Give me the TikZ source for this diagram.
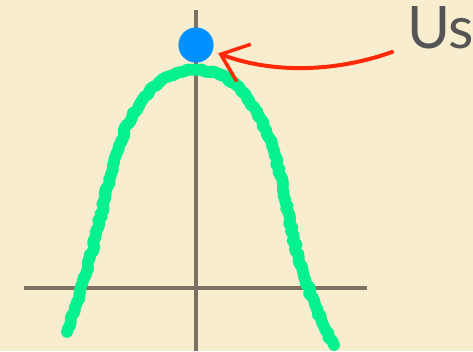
\documentclass[tikz,border=0pt]{standalone}
\usepackage{fontspec}
\setsansfont{Lato}
\usetikzlibrary{arrows.meta,decorations.pathmorphing}
\definecolor{paper}{HTML}{F8EDCF}
\definecolor{axisgrey}{HTML}{7A7262}
\definecolor{chalkgreen}{HTML}{05F08E}
\definecolor{dotblue}{HTML}{0090FF}
\definecolor{penred}{HTML}{FF2A05}
\definecolor{txtgrey}{HTML}{555555}

\begin{document}
\begin{tikzpicture}[x=0.03cm, y=-0.03cm,
  axis/.style={draw=axisgrey, line width=2.6pt},
  chalk/.style={draw=chalkgreen, line cap=round, line join=round,
                decorate, decoration={random steps, segment length=3pt, amplitude=1.1pt}},
  dot/.style={circle, fill=dotblue, minimum size=30pt, inner sep=0pt},
  pen/.style={draw=penred, line width=3.4pt, line cap=round},
  >={Straight Barb[length=21pt, width=34pt, line width=3pt]}]

% paper
\fill[paper] (0,0) rectangle (473,351);
\useasboundingbox (0,0) rectangle (473,351);

% axes
\draw[axis] (24,288) -- (367,288);
\draw[axis] (196,10) -- (196,351);

% the hill
\pgfmathsetseed{7}
\foreach \w/\a in {10pt/1.2pt, 5pt/2.6pt, 3.5pt/3.2pt}{
  \draw[chalk, line width=\w, decoration={amplitude=\a}]
    (67,332) .. controls (90,270) and (100,215) .. (113,165)
    .. controls (128,110) and (155,70) .. (197,70)
    .. controls (240,70) and (268,120) .. (280,175)
    .. controls (290,220) and (298,280) .. (334,345);}

% us on top
\node[dot] (us) at (196,45) {};
\node[font=\sffamily\fontsize{50}{52}\selectfont, text=txtgrey, anchor=west]
  (label) at (403,28) {Us};
\coordinate (start) at (392,52);
\draw[pen, ->, shorten >=5pt] (start) .. controls (330,74) and (268,72) .. (us);
\end{tikzpicture}
\end{document}
